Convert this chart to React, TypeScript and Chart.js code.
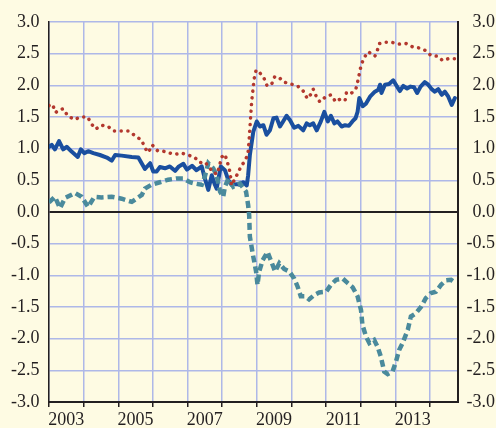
import React, { useEffect, useRef } from "react";
import { Chart, registerables } from "chart.js";

Chart.register(...registerables);

// Tick labels
const yTickValues = [-3, -2.5, -2, -1.5, -1, -0.5, 0, 0.5, 1, 1.5, 2, 2.5, 3];
const gridYears = [2003, 2004, 2005, 2006, 2007, 2008, 2009, 2010, 2011, 2012, 2013, 2014];
const labelYears = [2003, 2005, 2007, 2009, 2011, 2013];

// Series 1: solid blue
const blueDates = [
  2003.0, 2003.08, 2003.17, 2003.29, 2003.41, 2003.51, 2003.66, 2003.83, 2003.92, 2004.02,
  2004.13, 2004.28, 2004.47, 2004.67, 2004.81, 2004.91, 2005.1, 2005.39, 2005.58, 2005.77,
  2005.92, 2006.01, 2006.11, 2006.2, 2006.35, 2006.49, 2006.64, 2006.75, 2006.88, 2006.98,
  2007.13, 2007.26, 2007.41, 2007.5, 2007.6, 2007.7, 2007.79, 2007.84, 2007.96, 2008.08,
  2008.18, 2008.27, 2008.42, 2008.51, 2008.61, 2008.71, 2008.75, 2008.8, 2008.9, 2009.0,
  2009.09, 2009.19, 2009.28, 2009.38, 2009.48, 2009.57, 2009.67, 2009.76, 2009.86, 2009.96,
  2010.08, 2010.2, 2010.34, 2010.44, 2010.53, 2010.63, 2010.73, 2010.85, 2010.95, 2011.05,
  2011.14, 2011.24, 2011.33, 2011.45, 2011.55, 2011.66, 2011.76, 2011.85, 2011.91, 2011.96,
  2012.06, 2012.15, 2012.27, 2012.41, 2012.51, 2012.56, 2012.6, 2012.7, 2012.82, 2012.94,
  2013.04, 2013.13, 2013.23, 2013.34, 2013.44, 2013.54, 2013.63, 2013.73, 2013.85, 2013.95,
  2014.05, 2014.14, 2014.24, 2014.34, 2014.43, 2014.53, 2014.63, 2014.72,
];
const blueValues = [
  1.03, 1.06, 0.99, 1.12, 0.99, 1.03, 0.95, 0.87, 0.99, 0.93,
  0.96, 0.93, 0.9, 0.86, 0.81, 0.9, 0.89, 0.87, 0.86, 0.68,
  0.77, 0.64, 0.64, 0.71, 0.69, 0.72, 0.65, 0.72, 0.76, 0.67,
  0.73, 0.66, 0.72, 0.53, 0.35, 0.58, 0.43, 0.37, 0.72, 0.66,
  0.5, 0.43, 0.44, 0.43, 0.47, 0.42, 0.58, 0.9, 1.27, 1.43,
  1.35, 1.37, 1.22, 1.29, 1.48, 1.49, 1.35, 1.43, 1.52, 1.45,
  1.33, 1.36, 1.29, 1.4, 1.37, 1.4, 1.29, 1.43, 1.58, 1.43,
  1.52, 1.4, 1.43, 1.35, 1.37, 1.36, 1.43, 1.48, 1.58, 1.8,
  1.67, 1.71, 1.82, 1.9, 1.93, 2.01, 1.88, 2.01, 2.02, 2.08,
  1.99, 1.91, 1.99, 1.95, 1.98, 1.97, 1.88, 1.98, 2.05, 2.01,
  1.94, 1.9, 1.94, 1.85, 1.9, 1.82, 1.69, 1.8,
];

// Series 2: dotted red
const redDates = [
  2003.0, 2003.1, 2003.19, 2003.29, 2003.41, 2003.54, 2003.73, 2003.92, 2004.12, 2004.21,
  2004.35, 2004.52, 2004.71, 2004.86, 2005.08, 2005.29, 2005.5, 2005.68, 2005.77, 2005.87,
  2005.98, 2006.13, 2006.25, 2006.42, 2006.64, 2006.83, 2007.02, 2007.21, 2007.36, 2007.5,
  2007.65, 2007.74, 2007.86, 2007.99, 2008.08, 2008.15, 2008.23, 2008.27, 2008.46, 2008.56, 2008.63,
  2008.71, 2008.75, 2008.78, 2008.82, 2008.85, 2008.9, 2008.93, 2008.98, 2009.07, 2009.21,
  2009.3, 2009.43, 2009.52, 2009.65, 2009.79, 2009.99, 2010.18, 2010.34, 2010.46, 2010.55,
  2010.63, 2010.73, 2010.82, 2010.99, 2011.14, 2011.28, 2011.4, 2011.55, 2011.59, 2011.72,
  2011.86, 2011.91, 2011.96, 2012.01, 2012.09, 2012.22, 2012.41, 2012.48, 2012.54, 2012.68,
  2012.89, 2013.1, 2013.31, 2013.49, 2013.69, 2013.87, 2014.03, 2014.22, 2014.37, 2014.53, 2014.72,
];
const redValues = [
  1.68, 1.7, 1.57, 1.61, 1.63, 1.52, 1.46, 1.5, 1.5, 1.4,
  1.31, 1.37, 1.35, 1.28, 1.28, 1.28, 1.2, 1.13, 1.01, 0.94,
  1.06, 0.97, 0.97, 0.94, 0.91, 0.93, 0.9, 0.86, 0.78, 0.79,
  0.69, 0.62, 0.6, 0.87, 0.91, 0.79, 0.62, 0.42, 0.62, 0.74, 0.78,
  0.87, 0.95, 1.15, 1.48, 1.73, 1.99, 2.12, 2.24, 2.21, 2.11,
  1.99, 2.02, 2.14, 2.12, 2.05, 2.02, 1.99, 1.91, 1.79, 1.85,
  1.94, 1.81, 1.74, 1.82, 1.85, 1.74, 1.78, 1.76, 1.89, 1.87,
  1.94, 2.05, 2.18, 2.31, 2.43, 2.53, 2.46, 2.55, 2.66, 2.68,
  2.68, 2.65, 2.66, 2.61, 2.59, 2.55, 2.47, 2.46, 2.39, 2.42, 2.42,
];

// Series 3: dashed teal
const tealDates = [
  2003.0, 2003.17, 2003.32, 2003.46, 2003.75, 2003.94, 2004.13, 2004.31, 2004.52, 2004.81,
  2005.1, 2005.39, 2005.68, 2005.77, 2005.96, 2006.2, 2006.44, 2006.69, 2006.88, 2007.07,
  2007.21, 2007.41, 2007.5, 2007.6, 2007.74, 2007.84, 2007.94, 2008.03, 2008.08, 2008.18,
  2008.32, 2008.42, 2008.51, 2008.69, 2008.75, 2008.78, 2008.8, 2008.88, 2008.98, 2009.02,
  2009.07, 2009.17, 2009.31, 2009.53, 2009.65, 2009.79, 2009.94, 2010.08, 2010.18, 2010.27,
  2010.4, 2010.51, 2010.66, 2010.8, 2011.0, 2011.14, 2011.29, 2011.48, 2011.62, 2011.77,
  2011.91, 2012.01, 2012.05, 2012.15, 2012.25, 2012.39, 2012.49, 2012.58, 2012.68, 2012.78,
  2012.92, 2013.02, 2013.11, 2013.21, 2013.36, 2013.45, 2013.59, 2013.74, 2013.88, 2014.03,
  2014.17, 2014.32, 2014.46, 2014.61, 2014.75,
];
const tealValues = [
  0.15, 0.24, 0.06, 0.22, 0.3, 0.24, 0.08, 0.24, 0.23, 0.24,
  0.21, 0.16, 0.27, 0.37, 0.43, 0.47, 0.51, 0.53, 0.53, 0.47,
  0.45, 0.43, 0.56, 0.77, 0.69, 0.58, 0.32, 0.24, 0.4, 0.53,
  0.4, 0.43, 0.45, 0.32, 0.11, -0.05, -0.39, -0.65, -0.94, -1.15,
  -0.94, -0.76, -0.63, -0.94, -0.81, -0.9, -0.94, -1.05, -1.18, -1.33,
  -1.33, -1.38, -1.31, -1.27, -1.26, -1.15, -1.07, -1.05, -1.12, -1.19,
  -1.33, -1.55, -1.78, -1.96, -2.07, -2.02, -2.13, -2.28, -2.52, -2.56,
  -2.52, -2.36, -2.18, -2.07, -1.86, -1.65, -1.6, -1.5, -1.36, -1.28,
  -1.26, -1.15, -1.08, -1.07, -1.13,
];

const BG = "#FEFBE3";
const GRID = "#AEB8E8";
const INK = "#231F20";
const FONT = { family: "'Liberation Serif', 'DejaVu Serif', serif", size: 18 };

const toPoints = (xs: number[], ys: number[]) => xs.map((x, i) => ({ x, y: ys[i] }));
const isYear = (v: number) => Math.abs(v - Math.round(v)) < 1e-6;

export default function App() {
  const canvasRef = useRef<HTMLCanvasElement | null>(null);

  useEffect(() => {
    const canvas = canvasRef.current;
    if (!canvas) return;
    const yTickBuilder = (axis: any) => {
      axis.ticks = yTickValues.map((v) => ({ value: v }));
    };
    const chart = new Chart(canvas, {
      type: "line",
      data: {
        datasets: [
          {
            label: "red",
            data: toPoints(redDates, redValues),
            borderColor: "#B3382E",
            borderWidth: 3.5,
            borderDash: [0.1, 6.6],
            borderCapStyle: "round",
            borderJoinStyle: "round",
            pointRadius: 0,
            fill: false,
            tension: 0,
          },
          {
            label: "teal",
            data: toPoints(tealDates, tealValues),
            borderColor: "#4A8A9C",
            borderWidth: 4.5,
            borderDash: [7, 4],
            borderCapStyle: "butt",
            borderJoinStyle: "miter",
            pointRadius: 0,
            fill: false,
            tension: 0,
          },
          {
            label: "blue",
            data: toPoints(blueDates, blueValues),
            borderColor: "#1A4F9F",
            borderWidth: 4,
            borderJoinStyle: "round",
            borderCapStyle: "round",
            pointRadius: 0,
            fill: false,
            tension: 0,
          },
        ],
      },
      options: {
        animation: false,
        responsive: false,
        maintainAspectRatio: false,
        events: [],
        layout: { padding: { top: 22, right: 1, left: 0, bottom: 0 } },
        plugins: { legend: { display: false }, tooltip: { enabled: false }, title: { display: false } },
        scales: {
          x: {
            type: "linear",
            min: 2003,
            max: 2014.81,
            afterBuildTicks: (axis: any) => {
              const t: { value: number }[] = [];
              gridYears.forEach((y) => t.push({ value: y }));
              labelYears.forEach((y) => t.push({ value: y + 0.5 }));
              t.sort((a, b) => a.value - b.value);
              axis.ticks = t;
            },
            afterFit: (axis: any) => {
              axis.height = 26;
            },
            grid: {
              color: (ctx: any) => (ctx.tick && isYear(ctx.tick.value) ? GRID : "rgba(0,0,0,0)"),
              lineWidth: 1.5,
              drawTicks: true,
              tickLength: 5,
              tickWidth: 1.5,
              tickColor: (ctx: any) => (ctx.tick && isYear(ctx.tick.value) ? INK : "rgba(0,0,0,0)"),
            },
            border: { display: true, color: INK, width: 2 },
            ticks: {
              autoSkip: false,
              maxRotation: 0,
              minRotation: 0,
              padding: 2,
              color: INK,
              font: FONT,
              callback: (v: any) => (isYear(Number(v)) ? "" : String(Math.floor(Number(v)))),
            },
          },
          y: {
            type: "linear",
            position: "left",
            min: -3,
            max: 3,
            afterBuildTicks: yTickBuilder,
            afterFit: (axis: any) => {
              axis.width = 49;
            },
            grid: {
              color: (ctx: any) => (ctx.tick && ctx.tick.value === 0 ? INK : GRID),
              lineWidth: (ctx: any) => (ctx.tick && ctx.tick.value === 0 ? 2 : 1.5),
              drawTicks: false,
            },
            border: { display: true, color: INK, width: 1.5 },
            ticks: {
              padding: 9.5,
              color: INK,
              font: FONT,
              callback: (v: any) => Number(v).toFixed(1),
            },
          },
          y2: {
            type: "linear",
            position: "right",
            min: -3,
            max: 3,
            afterBuildTicks: yTickBuilder,
            afterFit: (axis: any) => {
              axis.width = 37;
            },
            grid: { drawOnChartArea: false, drawTicks: false },
            border: { display: true, color: INK, width: 2 },
            ticks: {
              padding: 8,
              crossAlign: "far",
              color: INK,
              font: FONT,
              callback: (v: any) => Number(v).toFixed(1),
            },
          },
        },
      },
    } as any);
    return () => {
      chart.destroy();
    };
  }, []);

  return (
    <div
      style={{
        position: "fixed",
        left: 0,
        top: 0,
        width: 496,
        height: 428,
        background: BG,
        overflow: "hidden",
      }}
    >
      <canvas ref={canvasRef} width={496} height={428} style={{ display: "block", width: 496, height: 428 }} />
    </div>
  );
}
